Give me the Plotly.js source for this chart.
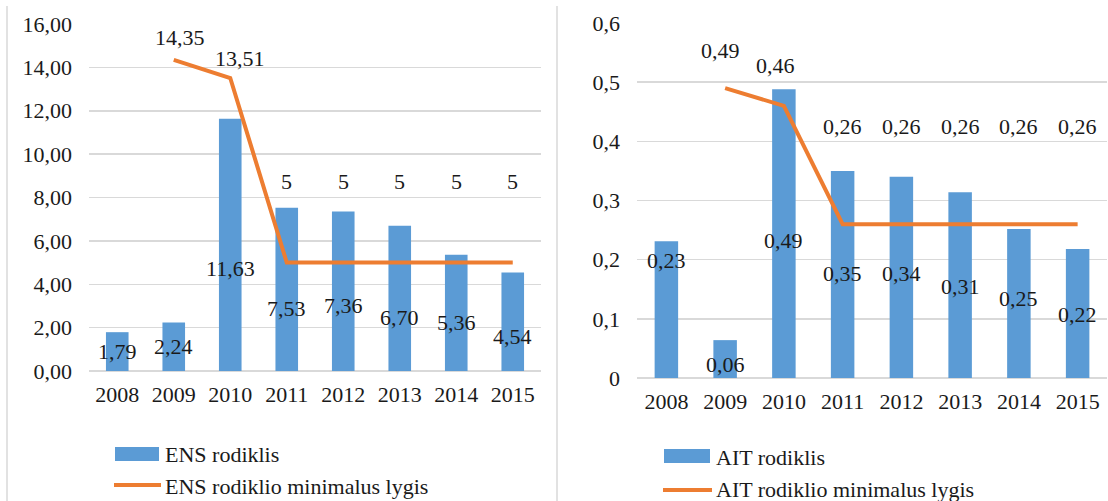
<!DOCTYPE html>
<html>
<head>
<meta charset="utf-8">
<script src="https://cdn.plot.ly/plotly-3.0.1.min.js"></script>
<style>html,body{margin:0;padding:0;background:#fff;}#chart{width:1108px;height:501px;}</style>
</head>
<body>
<div id="chart"></div>
<script>
// ---- data ----
const years = ['2008','2009','2010','2011','2012','2013','2014','2015'];
const ensValues = [1.79, 2.24, 11.63, 7.53, 7.36, 6.70, 5.36, 4.54];
const ensMinimum = [null, 14.35, 13.51, 5, 5, 5, 5, 5];
const aitValues = [0.231, 0.064, 0.488, 0.35, 0.34, 0.314, 0.252, 0.218];
const aitMinimum = [null, 0.49, 0.46, 0.26, 0.26, 0.26, 0.26, 0.26];
const ensBarName = 'ENS rodiklis';
const ensLineName = 'ENS rodiklio minimalus lygis';
const aitBarName = 'AIT rodiklis';
const aitLineName = 'AIT rodiklio minimalus lygis';

// ---- label placement (where the original put its data labels, in axis units) ----
const ensBarLabelAt = [0.89, 1.12, 4.73, 2.89, 3.0, 2.47, 2.24, 1.61];
const ensLineLabelAt = [null, 15.38, 14.42, 8.73, 8.73, 8.73, 8.73, 8.73];
const aitBarLabelAt = [0.198, 0.022, 0.233, 0.176, 0.176, 0.154, 0.134, 0.108];
const aitLineLabelAt = [null, 0.554, 0.529, 0.425, 0.425, 0.425, 0.425, 0.425];
const lineLabelShift = [0, 6, 10, 0, 0, 0, 0, 0];

const W = 1108, H = 501;
const px = x => x / W;
const py = y => 1 - y / H;
const BLUE = '#5B9BD5', ORANGE = '#ED7D31', GRID = '#D9D9D9', TXT = '#1a1a1a';
const FONT = 'Liberation Serif, Times New Roman, serif';
const FS = 22;

const fmt2 = v => v.toFixed(2).replace('.', ',');
const fmtRaw = v => String(v).replace('.', ',');

const traces = [
  {type: 'bar', x: years, y: ensValues, name: ensBarName, marker: {color: BLUE}, width: 0.4,
   xaxis: 'x', yaxis: 'y', showlegend: false},
  {type: 'scatter', mode: 'lines', x: years, y: ensMinimum, name: ensLineName,
   line: {color: ORANGE, width: 4}, xaxis: 'x', yaxis: 'y', showlegend: false},
  {type: 'bar', x: years, y: aitValues, name: aitBarName, marker: {color: BLUE}, width: 0.4,
   xaxis: 'x2', yaxis: 'y2', showlegend: false},
  {type: 'scatter', mode: 'lines', x: years, y: aitMinimum, name: aitLineName,
   line: {color: ORANGE, width: 4}, xaxis: 'x2', yaxis: 'y2', showlegend: false}
];

const annotations = [];
const lab = (xref, yref, x, y, text, xshift) => ({
  xref, yref, x, y, text, showarrow: false, xanchor: 'center', yanchor: 'middle',
  xshift: xshift || 0, font: {family: FONT, size: FS, color: TXT}
});
years.forEach((yr, i) => {
  // category axes take the serial index of a category
  annotations.push(lab('x', 'y', i, ensBarLabelAt[i], fmt2(ensValues[i])));
  annotations.push(lab('x2', 'y2', i, aitBarLabelAt[i], fmt2(Math.round(aitValues[i] * 100) / 100)));
  if (ensMinimum[i] !== null) {
    annotations.push(lab('x', 'y', i, ensLineLabelAt[i], fmtRaw(ensMinimum[i]), lineLabelShift[i]));
  }
  if (aitMinimum[i] !== null) {
    annotations.push(lab('x2', 'y2', i, aitLineLabelAt[i], fmtRaw(aitMinimum[i]), -lineLabelShift[i] * 0.8));
  }
});

// custom legends
const legText = (x, y, text) => ({
  xref: 'paper', yref: 'paper', x: px(x), y: py(y), text, showarrow: false,
  xanchor: 'left', yanchor: 'middle', font: {family: FONT, size: FS, color: TXT}
});
annotations.push(legText(163, 454, ensBarName));
annotations.push(legText(163, 486, ensLineName));
annotations.push(legText(714, 457, aitBarName));
annotations.push(legText(714, 489, aitLineName));

const shapes = [
  {type: 'line', xref: 'paper', yref: 'paper', x0: px(7), x1: px(7), y0: 0, y1: py(6), line: {color: GRID, width: 1.5}},
  {type: 'line', xref: 'paper', yref: 'paper', x0: px(557), x1: px(557), y0: 0, y1: py(6), line: {color: GRID, width: 1.5}},
  {type: 'rect', xref: 'paper', yref: 'paper', x0: px(115), x1: px(159), y0: py(461), y1: py(447), fillcolor: BLUE, line: {width: 0}},
  {type: 'line', xref: 'paper', yref: 'paper', x0: px(114), x1: px(161), y0: py(485), y1: py(485), line: {color: ORANGE, width: 4}},
  {type: 'rect', xref: 'paper', yref: 'paper', x0: px(664), x1: px(710), y0: py(463), y1: py(449), fillcolor: BLUE, line: {width: 0}},
  {type: 'line', xref: 'paper', yref: 'paper', x0: px(663), x1: px(712), y0: py(490), y1: py(490), line: {color: ORANGE, width: 4}}
];

const xCommon = {type: 'category', showgrid: false, ticks: '', showline: false, zeroline: false,
  range: [-0.5, 7.5], autorange: false,
  tickfont: {family: FONT, size: FS, color: TXT}, ticklabelstandoff: 8, fixedrange: true};
const yCommon = {showgrid: true, gridcolor: GRID, gridwidth: 1.5, zeroline: true, zerolinecolor: GRID,
  zerolinewidth: 1.5, ticks: '', showline: false, tickfont: {family: FONT, size: FS, color: TXT},
  ticklabelstandoff: 16, fixedrange: true, autorange: false};

const layout = {
  width: W, height: H,
  margin: {l: 0, r: 0, t: 0, b: 0},
  paper_bgcolor: '#ffffff', plot_bgcolor: '#ffffff',
  separators: ', ',
  showlegend: false,
  xaxis: Object.assign({}, xCommon, {domain: [px(89), px(541)], anchor: 'y'}),
  yaxis: Object.assign({}, yCommon, {domain: [py(371), py(24)], range: [0, 16], dtick: 2, tickformat: '.2f', anchor: 'x'}),
  xaxis2: Object.assign({}, xCommon, {domain: [px(637), px(1107)], anchor: 'y2'}),
  yaxis2: Object.assign({}, yCommon, {domain: [py(378), py(23)], range: [0, 0.6], dtick: 0.1, anchor: 'x2'}),
  annotations, shapes
};

Plotly.newPlot('chart', traces, layout, {displayModeBar: false, staticPlot: true});
</script>
</body>
</html>
